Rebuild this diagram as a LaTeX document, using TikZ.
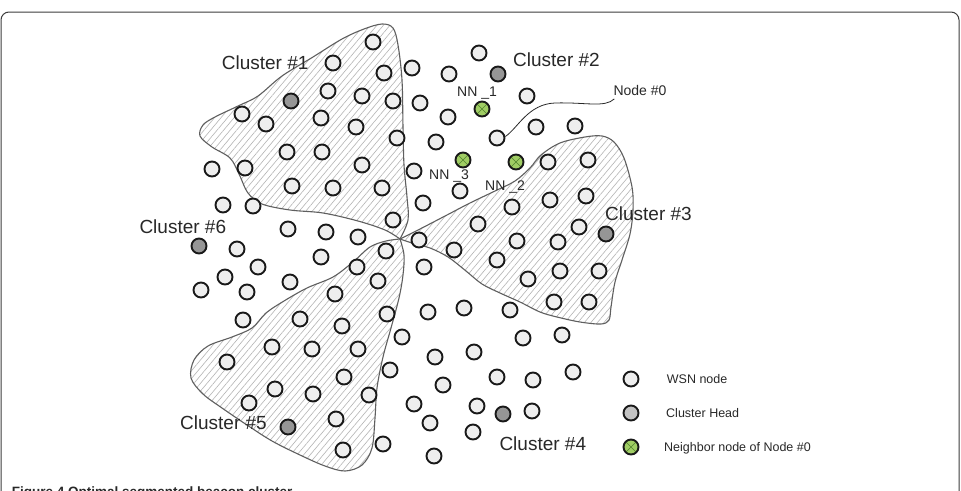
\documentclass[tikz,border=0pt]{standalone}
\usepackage{fontspec}
\setmainfont{Liberation Sans}
\usetikzlibrary{patterns.meta}
\definecolor{nodefill}{RGB}{238,238,238}
\definecolor{chfill}{RGB}{150,150,150}
\definecolor{chlegend}{RGB}{195,195,195}
\definecolor{nnfill}{RGB}{160,205,100}
\definecolor{nnline}{RGB}{80,130,45}
\definecolor{txt}{RGB}{40,40,40}
\definecolor{edge}{RGB}{95,95,95}
\definecolor{hatch}{RGB}{180,180,180}
\definecolor{frame}{RGB}{60,60,60}
\begin{document}
\begin{tikzpicture}[x=1pt,y=-1pt,
  wsn/.style={circle, draw=black!90, line width=1.9pt, fill=nodefill, minimum size=15pt, inner sep=0pt},
  chead/.style={wsn, fill=chfill},
  chlegendnode/.style={wsn, fill=chlegend},
  nnnode/.style={wsn, fill=nnfill, path picture={\draw[nnline, line width=0.6pt]
      (path picture bounding box.north west) -- (path picture bounding box.south east)
      (path picture bounding box.north east) -- (path picture bounding box.south west);}},
  region/.style={draw=edge, line width=1.1pt, pattern={Lines[angle=50, distance=5pt, line width=0.6pt]}, pattern color=hatch},
  biglabel/.style={anchor=base west, inner sep=0pt, text=txt, font=\fontsize{19}{22}\selectfont},
  nnlabel/.style={anchor=base west, inner sep=0pt, text=txt, font=\fontsize{14}{16}\selectfont},
  leglabel/.style={anchor=base west, inner sep=0pt, text=txt, font=\fontsize{12.5}{15}\selectfont},
  leader/.style={draw=txt, line width=0.8pt}
]
\useasboundingbox (0,0) rectangle (961,490);
\clip (0,0) rectangle (961,490);
\fill[white] (0,0) rectangle (961,490);
% frame
\draw[frame, line width=1pt, rounded corners=8pt] (1,12) rectangle (959,530);
% caption (cut off by the lower edge, as in the reference)
\node[anchor=base west, inner sep=0pt, text=txt, font=\bfseries\fontsize{13.5}{16}\selectfont] (caption) at (11.7,496.5) {Figure 4 Optimal segmented beacon cluster};

% cluster regions
\path[region] plot[smooth, tension=0.55] coordinates {(400,239) (385,230) (358,221) (323,213) (290,210) (262,204) (248,193) (239,174) (230,158) (212,147) (200,136) (203,125) (215,117) (238,106) (258,96) (282,76) (313,57) (342,39) (364,29) (382,24) (393,28) (398,45) (402,80) (403,127) (404,165) (407,197) (408,220) (400,239)} -- cycle;
\path[region] plot[smooth, tension=0.55] coordinates {(400,239) (420,229) (447,215) (470,203) (495,191) (515,181) (530,168) (541,155) (560,143) (585,137) (602,136) (614,142) (624,158) (632,187) (633,210) (630,234) (622,260) (615,282) (611,307) (609,320) (601,324) (580,322) (557,317) (540,312) (520,302) (500,293) (482,284) (466,271) (448,257) (430,248) (412,243) (400,239)} -- cycle;
\path[region] plot[smooth, tension=0.55] coordinates {(400,239) (404,255) (403,275) (399,298) (391,328) (383,357) (377,388) (375,418) (372,448) (362,465) (345,471) (325,466) (300,455) (272,441) (247,425) (222,408) (203,394) (191,378) (194,360) (208,346) (232,337) (252,328) (266,313) (284,301) (307,288) (333,277) (353,262) (370,247) (386,241) (400,239)} -- cycle;

% ordinary WSN nodes
\foreach \px/\py [count=\i] in {
  373/42, 333/63, 384/73, 412/68, 328/91, 362/96, 393/101, 420/103,
  242/114, 266/124, 321/118, 356/127, 397/138, 436/142, 287/152, 322/152,
  362/165, 212/169, 245/168, 414/171, 292/186, 333/188, 382/188, 223/205,
  253/206, 423/203, 393/220, 288/229, 326/232, 358/237,
  479/53, 449/74, 527/96, 448/117, 536/127, 575/126, 460/191,
  548/162, 588/160, 512/207, 550/200, 586/196, 478/224, 517/241, 558/242,
  579/227, 419/240, 454/250, 497/260, 560/271, 599/271, 528/279, 554/302,
  589/302, 424/267, 428/312, 464/308, 510/310,
  237/249, 258/267, 225/277, 201/290, 247/292, 290/282, 321/257, 357/267,
  386/251, 378/281, 335/294, 243/320, 300/319, 342/326, 387/314, 402/337,
  227/362, 272/347, 312/349, 358/349, 275/389, 313/394, 344/377, 369/395,
  390/370, 414/404, 249/403, 336/419, 343/450, 383/444, 430/423, 434/456,
  523/338, 562/335, 435/357, 474/352, 443/385, 497/377, 533/380, 573/372,
  477/406, 532/411, 473/432}
  \node[wsn] (w\i) at (\px,\py) {};
% node #0
\node[wsn] (n0) at (497,138) {};
% cluster heads
\foreach \px/\py [count=\i] in {291/101, 498/74, 606/234, 503/414, 288/427, 199/246}
  \node[chead] (ch\i) at (\px,\py) {};
% neighbour nodes of node #0
\node[nnnode] (nn1) at (482,109) {};
\node[nnnode] (nn2) at (516,162) {};
\node[nnnode] (nn3) at (463,160) {};

% labels
\node[biglabel] (c1) at (221.7,69.8) {Cluster \#1};
\node[biglabel] (c2) at (513,66.8) {Cluster \#2};
\node[biglabel] (c3) at (605,220.8) {Cluster \#3};
\node[biglabel] (c4) at (499.3,450.1) {Cluster \#4};
\node[biglabel] (c5) at (180,429.5) {Cluster \#5};
\node[biglabel] (c6) at (139.3,233.5) {Cluster \#6};
\node[nnlabel] (l1) at (457,96.7) {NN \_1};
\node[nnlabel] (l2) at (485,190) {NN \_2};
\node[nnlabel] (l3) at (429,179) {NN \_3};
\node[nnlabel] (lab0) at (613.3,95.9) {Node \#0};

% leader from node #0 to its label
\draw[leader] (n0.10) .. controls (518,128) and (528,104) .. (555,103)
  .. controls (585,102) and (605,108) .. ([xshift=1pt,yshift=-3pt]lab0.base west);

% legend
\node[wsn] (leg1) at (631,379) {};
\node[chlegendnode] (leg2) at (631,413) {};
\node[nnnode] (leg3) at (631,447) {};
\node[leglabel] (t1) at (666.7,383) {WSN node};
\node[leglabel] (t2) at (666,417.7) {Cluster Head};
\node[leglabel] (t3) at (664,451.7) {Neighbor node of Node \#0};
\end{tikzpicture}
\end{document}
